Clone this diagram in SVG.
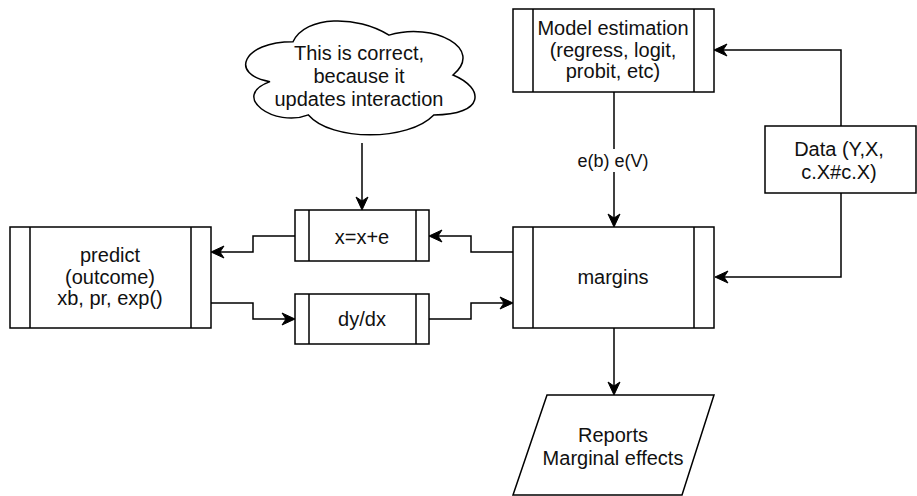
<svg xmlns="http://www.w3.org/2000/svg" width="917" height="496" viewBox="0 0 917 496">
<defs>
<style>
.box{fill:#fff;stroke:#000;stroke-width:1.5}
.bar{fill:none;stroke:#000;stroke-width:1.5}
.edge{fill:none;stroke:#000;stroke-width:1.5}
text{font-family:"Liberation Sans",Arial,Helvetica,sans-serif;font-size:20px;fill:#111;text-anchor:middle}
.lbl{font-size:18px}
</style>
<marker id="arr" viewBox="-1 -7 16 14" refX="11" refY="0" markerWidth="16" markerHeight="14" orient="auto" markerUnits="userSpaceOnUse">
<path d="M13,0 L0,-6 L4,0 L0,6 Z" fill="#000" stroke="#000" stroke-width="1"/>
</marker>
</defs>
<rect width="917" height="496" fill="#fff"/>

<g id="connectors">
<path class="edge" d="M841,126 V50 H716" marker-end="url(#arr)"/>
<path class="edge" d="M841,193 V277 H717" marker-end="url(#arr)"/>
<path class="edge" d="M614,92 V225" marker-end="url(#arr)"/>
<path class="edge" d="M513,252 H471 V236 H431" marker-end="url(#arr)"/>
<path class="edge" d="M429,319 H471 V303 H511" marker-end="url(#arr)"/>
<path class="edge" d="M295,236 H253 V252 H213" marker-end="url(#arr)"/>
<path class="edge" d="M211,303 H253 V319 H293" marker-end="url(#arr)"/>
<path class="edge" d="M362,143 V208" marker-end="url(#arr)"/>
<path class="edge" d="M614,328 V393" marker-end="url(#arr)"/>
<rect x="575" y="149" width="78" height="23" fill="#fff"/>
<text class="lbl" x="613" y="167">e(b) e(V)</text>
</g>

<g id="cloud">
<path class="box" d="M293,41.75 C242,41.75 229,75 270,81.65 C229,96.3 275,128.2 308.4,114.9 C331.4,141.5 408.2,141.5 433.8,114.9 C485,114.9 485,88.3 453,75 C485,48.4 433.8,21.8 389,35.1 C357,15.15 305.8,15.15 293,41.75 Z"/>
<text x="359" y="60">This is correct,</text>
<text x="359" y="83">because it</text>
<text x="359" y="106">updates interaction</text>
</g>

<g id="model">
<rect class="box" x="513" y="9" width="201" height="83"/>
<path class="bar" d="M533,9 V92 M694,9 V92"/>
<text x="613" y="35">Model estimation</text>
<text x="613" y="56.5">(regress, logit,</text>
<text x="613" y="78">probit, etc)</text>
</g>

<g id="data">
<rect class="box" x="765" y="126" width="151" height="67"/>
<text x="839" y="156">Data (Y,X,</text>
<text x="839" y="179">c.X#c.X)</text>
</g>

<g id="margins">
<rect class="box" x="513" y="227" width="201" height="101"/>
<path class="bar" d="M533,227 V328 M694,227 V328"/>
<text x="613" y="284">margins</text>
</g>

<g id="xxe">
<rect class="box" x="295" y="210" width="134" height="51"/>
<path class="bar" d="M309,210 V261 M416,210 V261"/>
<text x="362" y="243.5">x=x+e</text>
</g>

<g id="dydx">
<rect class="box" x="295" y="294" width="134" height="50"/>
<path class="bar" d="M309,294 V344 M416,294 V344"/>
<text x="362" y="326">dy/dx</text>
</g>

<g id="predict">
<rect class="box" x="10" y="227" width="201" height="101"/>
<path class="bar" d="M30,227 V328 M191,227 V328"/>
<text x="110" y="262">predict</text>
<text x="110" y="283.5">(outcome)</text>
<text x="110" y="305">xb, pr, exp()</text>
</g>

<g id="reports">
<path class="box" d="M547,395 H714 L682,495 H513 Z"/>
<text x="613" y="442">Reports</text>
<text x="613" y="465">Marginal effects</text>
</g>
</svg>
